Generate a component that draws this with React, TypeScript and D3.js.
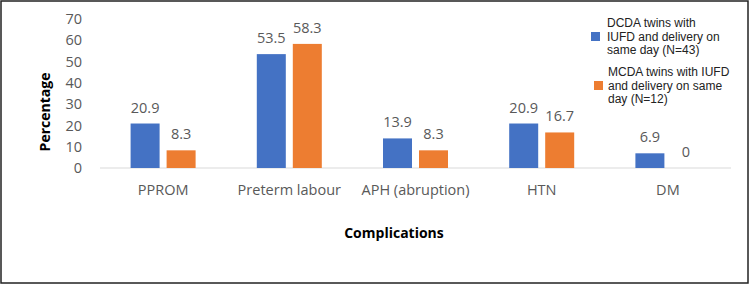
import { useEffect, useRef } from 'react';
import * as d3 from 'd3';

const categories = ['PPROM', 'Preterm labour', 'APH (abruption)', 'HTN', 'DM'];
const dcdaValues = [20.9, 53.5, 13.9, 20.9, 6.9];
const mcdaValues = [8.3, 58.3, 8.3, 16.7, 0];
const yTicks = [0, 10, 20, 30, 40, 50, 60, 70];
const seriesNames = [
  ['DCDA twins with', 'IUFD and delivery on', 'same day (N=43)'],
  ['MCDA twins with IUFD', 'and delivery on same', 'day (N=12)'],
];
const colors = ['#4472C4', '#ED7D31'];

const App = () => {
  const svgRef = useRef<SVGSVGElement>(null);

  useEffect(() => {
    const svg = d3.select(svgRef.current);
    svg.selectAll('*').remove();

    const width = 750;
    const height = 285;
    const font = "'Open Sans', sans-serif";
    const textColor = '#595959';

    // outer frame
    svg.append('rect')
      .attr('x', 1).attr('y', 1)
      .attr('width', width - 3).attr('height', height - 3)
      .attr('fill', '#fff')
      .attr('stroke', '#222').attr('stroke-width', 1.5);

    const x0 = d3.scaleBand().domain(categories).range([100, 731]);
    const y = d3.scaleLinear().domain([0, 70]).range([168, 19]);

    const barW = 29;
    const gap = 7;

    // y tick labels
    svg.append('g').selectAll('text')
      .data(yTicks)
      .enter().append('text')
      .attr('x', 82)
      .attr('y', d => y(d))
      .attr('dy', '0.35em')
      .attr('text-anchor', 'end')
      .attr('font-family', font)
      .attr('font-size', 14.5)
      .attr('fill', textColor)
      .text(d => d);

    // baseline
    svg.append('line')
      .attr('x1', 100).attr('x2', 731)
      .attr('y1', y(0)).attr('y2', y(0))
      .attr('stroke', '#d9d9d9').attr('stroke-width', 1);

    const series = [dcdaValues, mcdaValues];
    series.forEach((vals, si) => {
      const g = svg.append('g');
      const xPos = (c: string) => {
        const center = (x0(c) as number) + x0.bandwidth() / 2;
        return si === 0 ? center - gap / 2 - barW : center + gap / 2;
      };
      g.selectAll('rect')
        .data(categories)
        .enter().append('rect')
        .attr('x', c => xPos(c))
        .attr('y', (c, i) => y(vals[i]))
        .attr('width', barW)
        .attr('height', (c, i) => y(0) - y(vals[i]))
        .attr('fill', colors[si]);
      g.selectAll('text')
        .data(categories)
        .enter().append('text')
        .attr('x', c => xPos(c) + barW / 2)
        .attr('y', (c, i) => y(vals[i]) - 11)
        .attr('text-anchor', 'middle')
        .attr('font-family', font)
        .attr('font-size', 14.5)
        .attr('fill', textColor)
        .text((c, i) => vals[i]);
    });

    // category labels
    svg.append('g').selectAll('text')
      .data(categories)
      .enter().append('text')
      .attr('x', c => (x0(c) as number) + x0.bandwidth() / 2)
      .attr('y', 195)
      .attr('text-anchor', 'middle')
      .attr('font-family', font)
      .attr('font-size', 14.5)
      .attr('fill', textColor)
      .text(c => c);

    // axis titles
    svg.append('text')
      .attr('x', 394).attr('y', 238)
      .attr('text-anchor', 'middle')
      .attr('font-family', font)
      .attr('font-size', 14)
      .attr('font-weight', 'bold')
      .attr('fill', '#000')
      .text('Complications');

    svg.append('text')
      .attr('transform', 'translate(50,112) rotate(-90)')
      .attr('text-anchor', 'middle')
      .attr('font-family', font)
      .attr('font-size', 14)
      .attr('font-weight', 'bold')
      .attr('fill', '#000')
      .text('Percentage');

    // legend
    const legendTop = [23, 72];
    seriesNames.forEach((lines, si) => {
      const lg = svg.append('g');
      lg.append('rect')
        .attr('x', si === 0 ? 591 : 594)
        .attr('y', legendTop[si] + 14 - 5)
        .attr('width', 9).attr('height', 9)
        .attr('fill', colors[si]);
      lines.forEach((line, li) => {
        lg.append('text')
          .attr('x', si === 0 ? 607 : 608)
          .attr('y', legendTop[si] + li * 13.5)
          .attr('dy', '0.35em')
          .attr('font-family', "'Liberation Sans', Arial, sans-serif")
          .attr('font-size', 12)
          .attr('fill', '#222')
          .text(line);
      });
    });
  }, []);

  return (
    <div style={{ position: 'absolute', left: 0, top: 0 }}>
      <svg ref={svgRef} width={750} height={285} style={{ display: 'block' }}></svg>
    </div>
  );
};

export default App;
